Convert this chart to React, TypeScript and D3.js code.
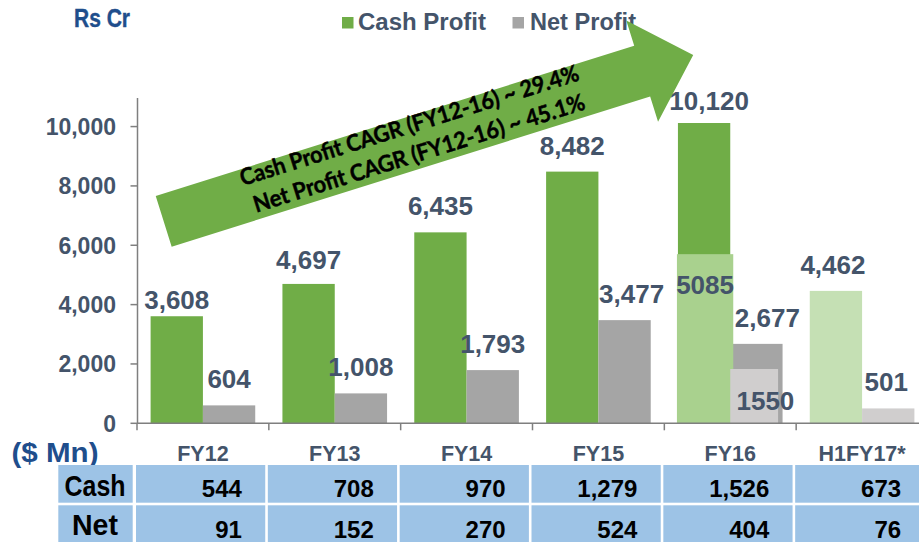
import React from "react";
import * as d3 from "d3";

const categories = ["FY12", "FY13", "FY14", "FY15", "FY16", "H1FY17*"];
const cashProfit = [3608, 4697, 6435, 8482, 10120, 4462];
const netProfit = [604, 1008, 1793, 3477, 2677, 501];
const cashUsdMn = ["544", "708", "970", "1,279", "1,526", "673"];
const netUsdMn = ["91", "152", "270", "524", "404", "76"];
const yTicks = [0, 2000, 4000, 6000, 8000, 10000];
// FY16 overlay boxes: label shown, and drawn height
const overlayLabels = ["5085", "1550"];
const overlayValues = [5700, 1830];
const cagrLines = ["Cash Profit CAGR (FY12-16) ~ 29.4%", "Net Profit CAGR (FY12-16) ~ 45.1%"];

const W = 919;
const H = 542;
const TXT = "#44546A";
const BLUE = "#1F4E8C";
const GREEN = "#70AD47";
const GREY = "#A5A5A5";
const ARIAL = "'Liberation Sans', Arial, sans-serif";

// label nudges [dx, dy] per series per category
const cashNudge: [number, number][] = [[0, 10], [0, 2], [0, 0], [0, 0], [5, 4], [-3, 0]];
const netNudge: [number, number][] = [[0, 0], [0, 0], [0, 0], [7, 0], [11, 0], [-2, 0]];

export default function App() {
  const x = d3.scaleBand<string>().domain(categories).range([137, 928]);
  const x1 = d3.scaleBand<string>().domain(["cash", "net"]).range([0, x.bandwidth()]).paddingOuter(0.26);
  const y = d3.scaleLinear().domain([0, 11000]).range([423.3, 96.9]);
  const bw = x1.bandwidth();
  const fmt = d3.format(",");
  const y0 = y(0);
  const last = categories.length - 1;

  // arrow geometry (local coords, rotated)
  const shaft = 26.6, head = 53, headBase = 501.5, tip = 555;
  const arrowPts = [
    [0, -shaft], [headBase, -shaft], [headBase, -head], [tip, 0],
    [headBase, head], [headBase, shaft], [0, shaft],
  ].map((p) => p.join(",")).join(" ");

  return (
    <svg width={W} height={H} style={{ position: "absolute", left: 0, top: 0, background: "#fff" }}
      fontFamily={ARIAL}>
      {/* Unit title */}
      <text x={74} y={27} fontSize={25} fontWeight="bold" fill={BLUE} textLength={56}
        lengthAdjust="spacingAndGlyphs" stroke={BLUE} strokeWidth={0.4}>Rs Cr</text>

      {/* Legend */}
      <rect x={342} y={17} width={11.5} height={11.5} fill={GREEN} />
      <text x={358} y={29.5} fontSize={23} fontWeight="bold" fill={TXT} textLength={128}
        lengthAdjust="spacingAndGlyphs">Cash Profit</text>
      <rect x={512.5} y={17} width={11.5} height={11.5} fill={GREY} />
      <text x={530} y={29.5} fontSize={23} fontWeight="bold" fill={TXT} textLength={106}
        lengthAdjust="spacingAndGlyphs">Net Profit</text>

      {/* Y axis */}
      <line x1={137.5} x2={137.5} y1={98} y2={y0} stroke="#7F7F7F" strokeWidth={1.5} />
      {yTicks.map((t) => (
        <g key={t}>
          <line x1={130.5} x2={137.5} y1={y(t)} y2={y(t)} stroke="#7F7F7F" strokeWidth={1.5} />
          <text x={116} y={y(t)} dy="0.36em" textAnchor="end" fontSize={23} fontWeight="bold" fill={TXT}>
            {fmt(t)}
          </text>
        </g>
      ))}

      {/* Bars */}
      {categories.map((c, i) => {
        const bx = x(c)!;
        const partial = i === last;
        const cx = bx + x1("cash")!;
        const nx = bx + x1("net")!;
        return (
          <g key={c}>
            <rect x={cx} y={y(cashProfit[i])} width={bw} height={y0 - y(cashProfit[i])}
              fill={partial ? "#C5E0B4" : GREEN} />
            <rect x={nx} y={y(netProfit[i])} width={bw} height={y0 - y(netProfit[i])}
              fill={partial ? "#D0CECE" : GREY} />
          </g>
        );
      })}

      {/* FY16 overlays */}
      {(() => {
        const bx = x("FY16")!;
        const cx = bx + x1("cash")!;
        const nx = bx + x1("net")!;
        const gy = y(overlayValues[0]);
        const ny = y(overlayValues[1]);
        return (
          <g>
            <rect x={cx - 1} y={gy} width={bw + 4} height={y0 - gy} fill="#A9D18E" />
            <rect x={nx} y={ny} width={bw - 4.5} height={y0 - ny} fill="#D0CECE" />
            <text x={cx - 1 + (bw + 4) / 2} y={gy + 40} textAnchor="middle" fontSize={26}
              fontWeight="bold" fill={TXT}>{overlayLabels[0]}</text>
            <text x={nx + bw / 2 + 9} y={y0 - 13} textAnchor="middle" fontSize={26}
              fontWeight="bold" fill={TXT}>{overlayLabels[1]}</text>
          </g>
        );
      })()}

      {/* X axis */}
      <line x1={137} x2={W} y1={y0} y2={y0} stroke="#7F7F7F" strokeWidth={1.5} />
      {categories.map((c) => (
        <line key={c} x1={x(c)!} x2={x(c)!} y1={y0} y2={y0 + 7} stroke="#7F7F7F" strokeWidth={1.5} />
      ))}

      {/* Value labels */}
      {categories.map((c, i) => {
        const bx = x(c)!;
        const cx = bx + x1("cash")! + bw / 2;
        const nx = bx + x1("net")! + bw / 2;
        return (
          <g key={c} fontSize={26} fontWeight="bold" fill={TXT} textAnchor="middle">
            <text x={cx + cashNudge[i][0]} y={y(cashProfit[i]) - 17 + cashNudge[i][1]}>{fmt(cashProfit[i])}</text>
            <text x={nx + netNudge[i][0]} y={y(netProfit[i]) - 17 + netNudge[i][1]}>{fmt(netProfit[i])}</text>
          </g>
        );
      })}

      {/* Category labels */}
      {categories.map((c) => (
        <text key={c} x={x(c)! + x.bandwidth() / 2} y={461} textAnchor="middle" fontSize={21.5}
          fontWeight="bold" fill={TXT}>{c}</text>
      ))}
      <text x={11.5} y={462} fontSize={27} fontWeight="bold" fill={BLUE} textLength={87}
        lengthAdjust="spacingAndGlyphs">($ Mn)</text>

      {/* Table */}
      <rect x={58.3} y={465} width={74.4} height={37.7} fill="#9DC3E6" />
      <rect x={58.3} y={505.3} width={74.4} height={40} fill="#9DC3E6" />
      <text x={95} y={496} textAnchor="middle" fontSize={30} fontWeight="bold" fill="#000"
        textLength={61} lengthAdjust="spacingAndGlyphs">Cash</text>
      <text x={95} y={535} textAnchor="middle" fontSize={30} fontWeight="bold" fill="#000"
        textLength={46} lengthAdjust="spacingAndGlyphs">Net</text>
      {categories.map((c, i) => {
        const bx = x(c)!;
        const right = bx + x.bandwidth() / 2 + 39;
        return (
          <g key={c}>
            <rect x={bx - 1} y={465} width={x.bandwidth() - 2.6} height={37.7} fill="#9DC3E6" />
            <rect x={bx - 1} y={505.3} width={x.bandwidth() - 2.6} height={40} fill="#9DC3E6" />
            <text x={right} y={497} textAnchor="end" fontSize={24} fontWeight="bold" fill="#000">{cashUsdMn[i]}</text>
            <text x={right} y={538} textAnchor="end" fontSize={24} fontWeight="bold" fill="#000">{netUsdMn[i]}</text>
          </g>
        );
      })}

      {/* CAGR arrow */}
      <g transform="translate(163.7,221.3) rotate(-17.43)">
        <polygon points={arrowPts} fill={GREEN} />
        <g fontSize={23} fontWeight="bold" fill="#000" stroke="#000" strokeWidth={0.45}
          fontFamily="Lato, 'Open Sans', sans-serif" textAnchor="middle">
          <text x={263} y={-10} textLength={354} lengthAdjust="spacingAndGlyphs">{cagrLines[0]}</text>
          <text x={264} y={19.5} textLength={346} lengthAdjust="spacingAndGlyphs">{cagrLines[1]}</text>
        </g>
      </g>
    </svg>
  );
}
